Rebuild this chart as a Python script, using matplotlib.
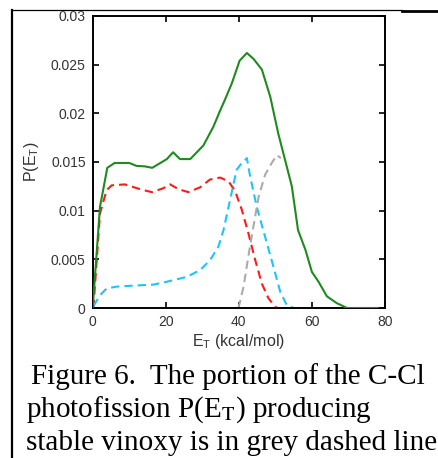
import matplotlib
matplotlib.use("Agg")
import matplotlib.pyplot as plt
from matplotlib.lines import Line2D
from matplotlib.patches import Rectangle

plt.rcParams['font.family'] = ['Liberation Sans', 'DejaVu Sans']
plt.rcParams['mathtext.fontset'] = 'custom'
plt.rcParams['mathtext.rm'] = 'Liberation Sans'

# total P(E_T), green
e_total = [0, 2, 4, 6, 10, 12, 14.3, 16.3, 20.3, 22, 23.9, 26.7, 30.3, 33, 34.9,
           36.2, 38.1, 40.2, 42.2, 44, 46.3, 48.6, 50.8, 53, 54.5, 56.2, 58.2,
           60, 61.8, 64.1, 66.8, 69.6, 78]
p_total = [0, 0.0104, 0.0144, 0.0149, 0.0149, 0.0146, 0.01455, 0.0144, 0.0153,
           0.016, 0.0153, 0.0153, 0.0167, 0.0186, 0.0203, 0.0214, 0.0231,
           0.0254, 0.0262, 0.0256, 0.0245, 0.0217, 0.0179, 0.0147, 0.0125,
           0.0080, 0.0060, 0.0037, 0.0027, 0.0012, 0.0005, 0.0, 0.0]

# red dashed
e_red = [0.2, 2, 3.8, 5.2, 8.8, 13, 16.2, 19.3, 21.2, 23.5, 26.2, 29.4, 32.1,
         34.9, 37.2, 39, 40.8, 42.6, 44.5, 46.3, 48.1, 50, 50.6]
p_red = [0, 0.0097, 0.0121, 0.0126, 0.0127, 0.0122, 0.0119, 0.0123, 0.0127,
         0.0122, 0.0119, 0.0124, 0.0132, 0.0134, 0.0130, 0.0120, 0.0101,
         0.0077, 0.0049, 0.0025, 0.0010, 0.0001, 0.0]

# cyan dashed
e_cyan = [0.2, 2, 3.8, 6.6, 11.1, 16.6, 20.3, 25.8, 29.4, 32.1, 34.4, 35.8,
          37.6, 39.4, 40.4, 42.2, 43.1, 44.9, 47.2, 49.5, 51.3, 53.1, 55]
p_cyan = [0.0002, 0.0013, 0.0020, 0.0022, 0.0023, 0.0024, 0.0027, 0.0032,
          0.0039, 0.0049, 0.0063, 0.0080, 0.0111, 0.0142, 0.0147, 0.0154,
          0.0135, 0.0104, 0.0073, 0.0042, 0.0017, 0.0003, 0.0]

# grey dashed: stable vinoxy
e_grey = [39.9, 41.3, 42.6, 44, 45.4, 47.2, 49, 50.4, 51.5]
p_grey = [0, 0.0022, 0.0053, 0.0084, 0.0114, 0.0137, 0.0149, 0.0157, 0.0154]

x_ticks = [0, 20, 40, 60, 80]
y_ticks = [0, 0.005, 0.01, 0.015, 0.02, 0.025, 0.03]
y_labels = ['0', '0.005', '0.01', '0.015', '0.02', '0.025', '0.03']

caption = ['Figure 6.  The portion of the C-Cl',
           r'photofission P(E$_{\mathrm{T}}$) producing',
           'stable vinoxy is in grey dashed line']

fig = plt.figure(figsize=(4.38, 4.58), dpi=100)
ax = fig.add_axes([0.2116, 0.3275, 0.6674, 0.6376])

dash = (0, (4, 2.4))
ax.plot(e_total, p_total, color='#1f8a1f', lw=1.5, zorder=3)
ax.plot(e_red, p_red, color='#ff1a1a', lw=1.5, linestyle=dash)
ax.plot(e_cyan, p_cyan, color='#1fc3f7', lw=1.5, linestyle=dash)
ax.plot(e_grey, p_grey, color='#ababab', lw=1.5, linestyle=dash)

ax.set_xlim(0, 80)
ax.set_ylim(0, 0.03)
ax.set_xticks(x_ticks)
ax.set_yticks(y_ticks)
ax.set_yticklabels(y_labels)
ax.tick_params(direction='in', length=4, width=1.2, top=True, right=True,
               labelsize=10, labelcolor='#333333', pad=5)
for s in ax.spines.values():
    s.set_linewidth(1.4)

ax.set_xlabel(r'E$_\mathrm{T}$ (kcal/mol)', fontsize=11.5, color='#333333',
              labelpad=2)
ax.set_ylabel(r'P(E$_\mathrm{T}$)', fontsize=11.5, color='#333333', labelpad=7)

# caption underneath
cap = dict(fontsize=21, family='Liberation Serif', color='black',
           transform=fig.transFigure, va='baseline', ha='left',
           math_fontfamily='stix')
fig.text(31 / 438, 1 - 384 / 458, caption[0], **cap)
fig.text(26.5 / 438, 1 - 417 / 458, caption[1], **cap)
fig.text(26.5 / 438, 1 - 450 / 458, caption[2], **cap)

# page frame
fig.patches.append(Rectangle((0, 1 - 10 / 458), 1, 10 / 458,
                             transform=fig.transFigure, color='white',
                             zorder=10))
fig.lines.append(Line2D([11.5 / 438, 11.5 / 438], [0, 1 - 10 / 458], lw=1.6,
                        color='black', transform=fig.transFigure, zorder=11))
fig.lines.append(Line2D([11.5 / 438, 402 / 438], [1 - 10 / 458, 1 - 10 / 458],
                        lw=0.9, color='black', transform=fig.transFigure,
                        zorder=11))
fig.lines.append(Line2D([402 / 438, 1], [1 - 11 / 458, 1 - 11 / 458], lw=2,
                        color='black', transform=fig.transFigure, zorder=11))

fig.savefig('out.png', dpi=100)
